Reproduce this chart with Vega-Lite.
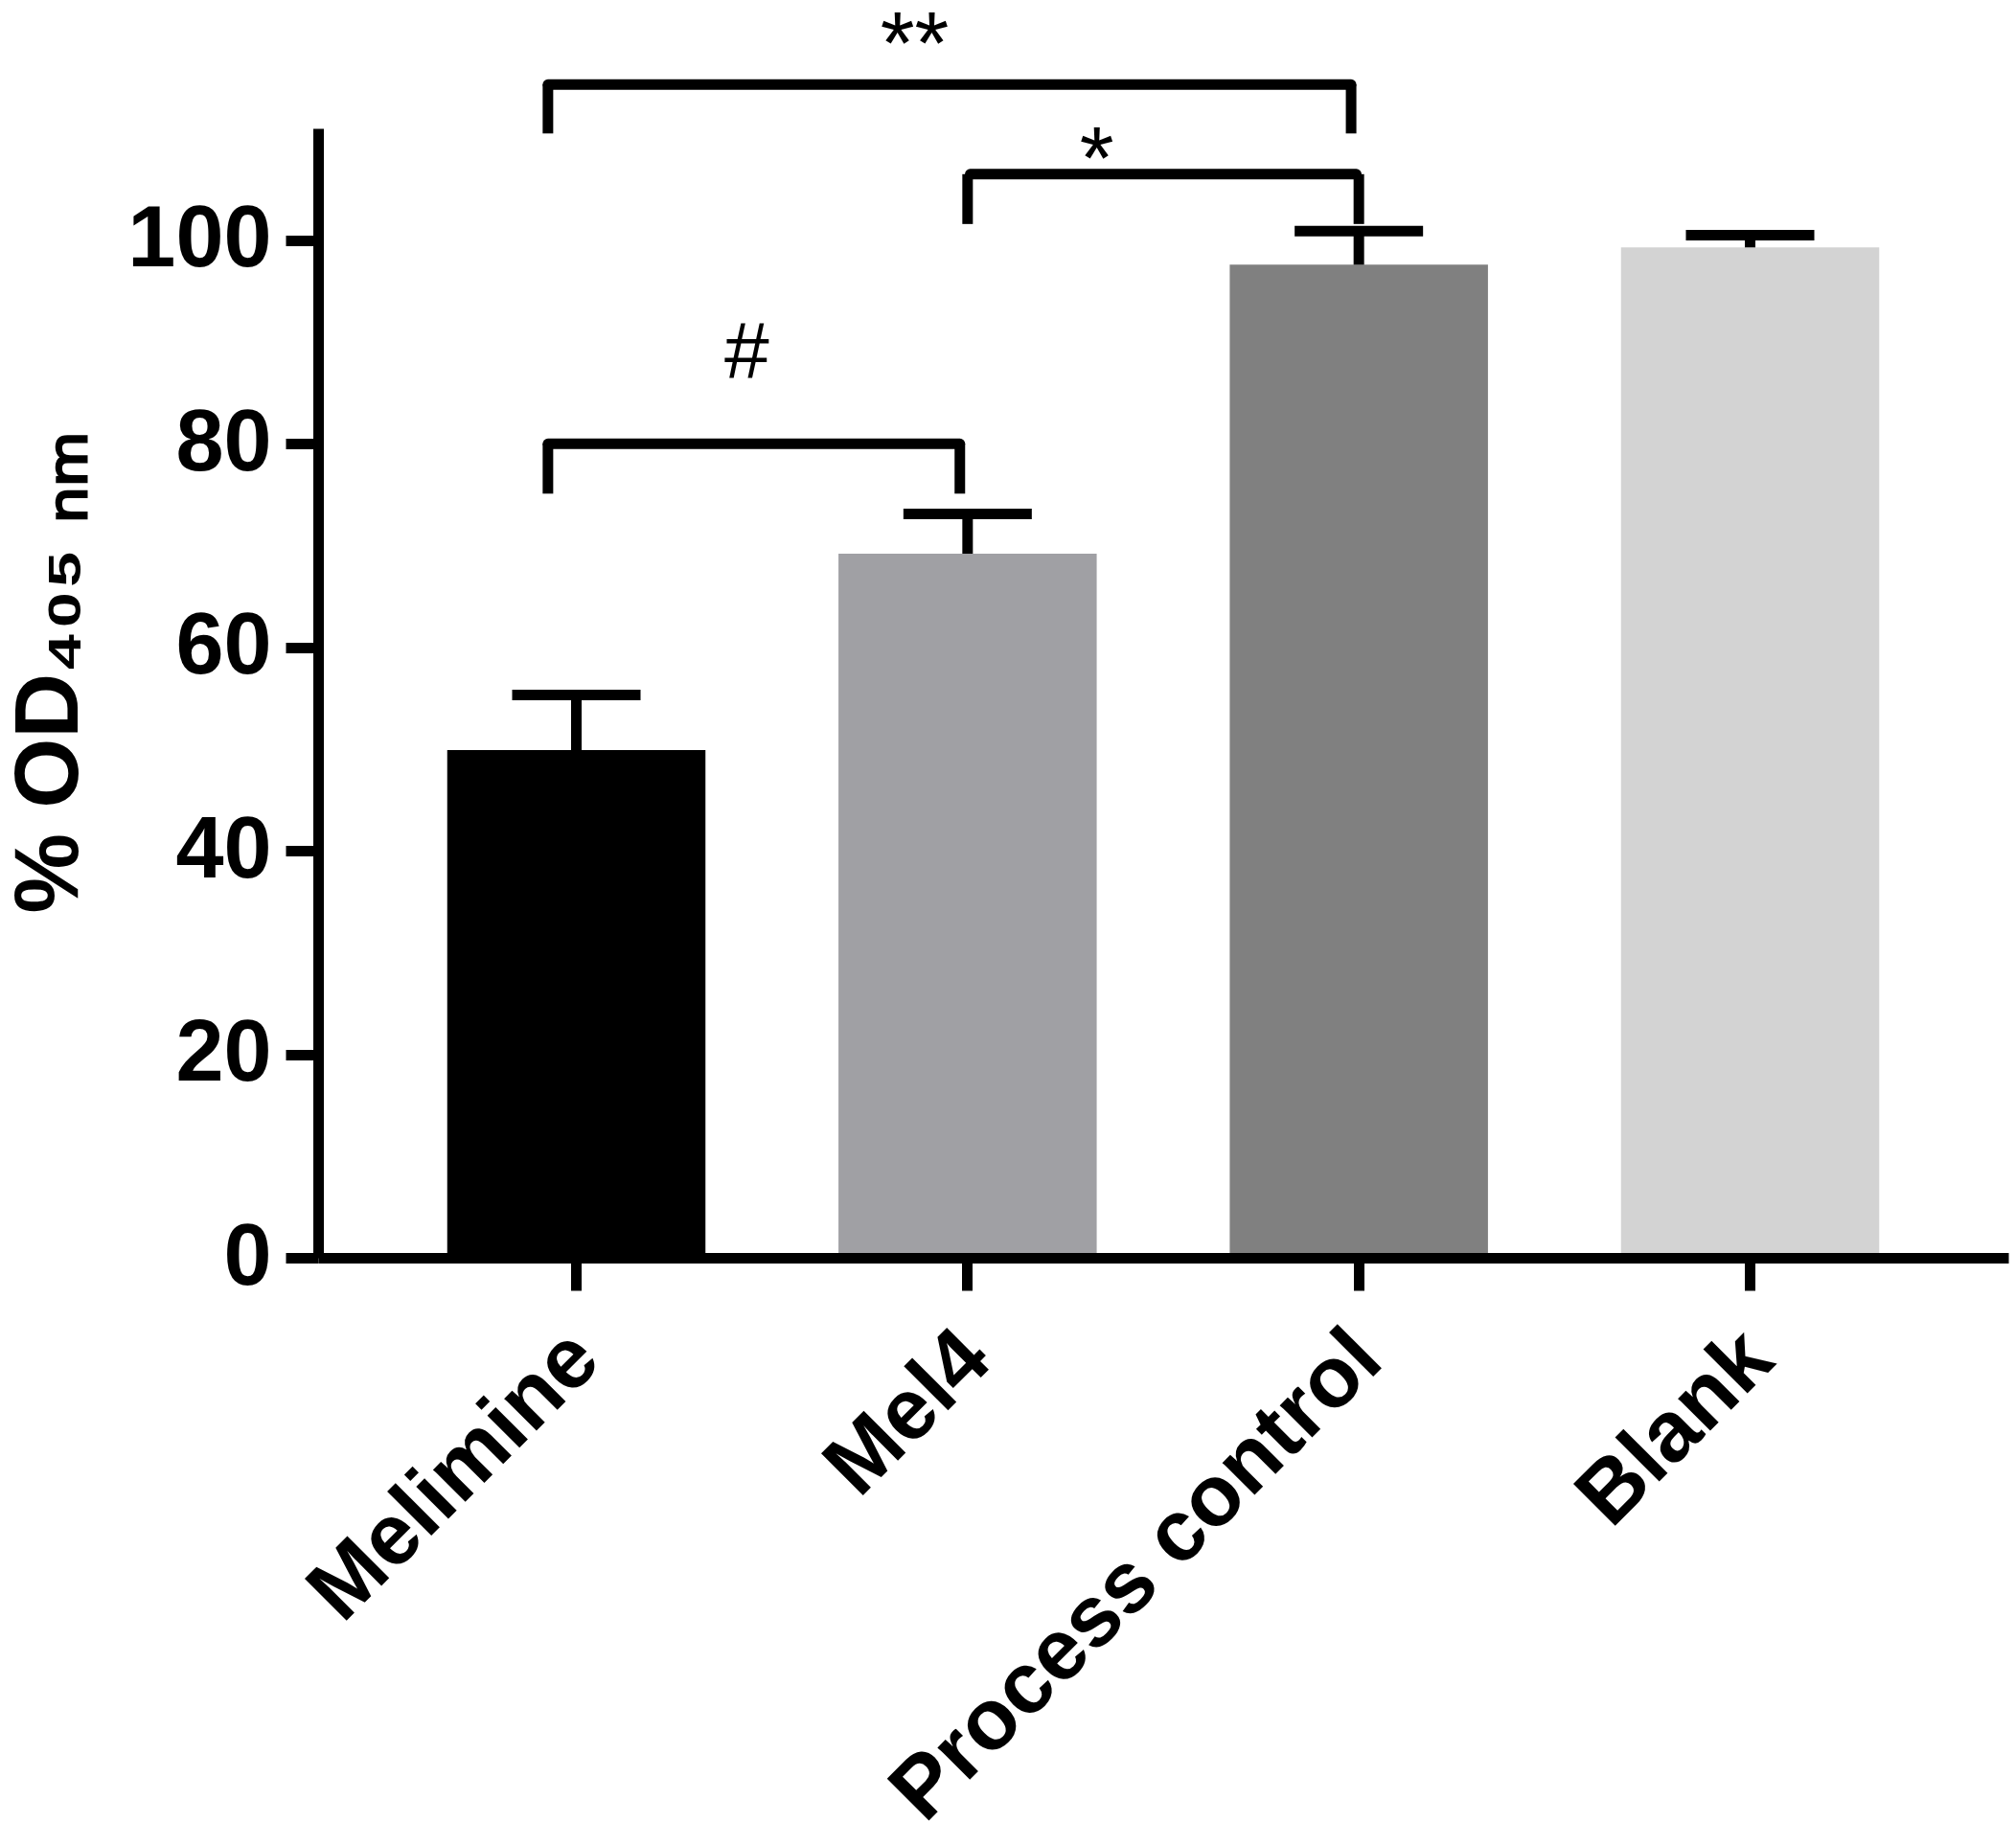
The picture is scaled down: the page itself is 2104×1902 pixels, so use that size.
{
  "$schema": "https://vega.github.io/schema/vega-lite/v6.json",
  "width": 1764,
  "height": 1179,
  "autosize": {"type": "none"},
  "padding": {"left": 332, "top": 134, "right": 8, "bottom": 589},
  "background": "white",
  "config": {
    "view": {"stroke": null},
    "font": "Liberation Sans"
  },
  "datasets": {
    "bars": [
      {"group": "Melimine", "mean": 49.9, "upper": 55.3},
      {"group": "Mel4", "mean": 69.2, "upper": 73.1},
      {"group": "Process control", "mean": 97.6, "upper": 100.9},
      {"group": "Blank", "mean": 99.3, "upper": 100.5}
    ],
    "spans": [
      {"id": "**", "from": "Melimine", "to": "Process control", "y": 115.3},
      {"id": "#", "from": "Melimine", "to": "Mel4", "y": 80.0},
      {"id": "*", "from": "Mel4", "to": "Process control", "y": 106.5}
    ],
    "legs": [
      {"id": "**", "side": "left", "at": "Melimine", "bottom": 110.5, "top": 115.3},
      {"id": "**", "side": "right", "at": "Process control", "bottom": 110.5, "top": 115.3},
      {"id": "#", "side": "left", "at": "Melimine", "bottom": 75.1, "top": 80.0},
      {"id": "#", "side": "right", "at": "Mel4", "bottom": 75.1, "top": 80.0},
      {"id": "*", "side": "left", "at": "Mel4", "bottom": 101.6, "top": 106.5},
      {"id": "*", "side": "right", "at": "Process control", "bottom": 101.6, "top": 106.5}
    ],
    "labels": [
      {"id": "**", "text": "**", "at": "Mel4", "y": 119.0},
      {"id": "*", "text": "*", "at": "Mel4", "y": 107.7},
      {"id": "#", "text": "#", "at": "Melimine", "y": 88.8}
    ]
  },
  "encoding": {
    "x": {
      "field": "group",
      "type": "nominal",
      "sort": ["Melimine", "Mel4", "Process control", "Blank"],
      "scale": {"domain": ["Melimine", "Mel4", "Process control", "Blank"], "paddingInner": 0.34, "paddingOuter": 0.33},
      "axis": {
        "title": null,
        "labelAngle": -45,
        "labelAlign": "right",
        "labelBaseline": "top",
        "labelFont": "Liberation Sans",
        "labelFontWeight": "bold",
        "labelFontSize": 90,
        "labelColor": "black",
        "labelLimit": 2000,
        "labelPadding": 26,
        "labelOffset": -22,
        "tickSize": 34,
        "tickWidth": 11,
        "tickColor": "black",
        "domainWidth": 11,
        "domainColor": "black",
        "zindex": 1
      }
    }
  },
  "layer": [
    {
      "data": {"name": "bars"},
      "mark": {"type": "bar"},
      "encoding": {
        "y": {
          "field": "mean",
          "type": "quantitative",
          "scale": {"domain": [0, 111], "nice": false},
          "axis": {
            "values": [0, 20, 40, 60, 80, 100],
            "grid": false,
            "title": "% OD₄₀₅ ₙₘ",
            "titleFont": "Liberation Sans",
            "titleFontWeight": "bold",
            "titleFontSize": 94,
            "titleColor": "black",
            "titlePadding": 32,
            "titleY": 568,
            "labelFont": "Liberation Sans",
            "labelFontWeight": "bold",
            "labelFontSize": 90,
            "labelColor": "black",
            "labelPadding": 15,
            "tickSize": 34,
            "tickWidth": 11,
            "tickColor": "black",
            "domainWidth": 11,
            "domainColor": "black",
            "zindex": 1
          }
        },
        "color": {
          "field": "group",
          "type": "nominal",
          "scale": {"domain": ["Melimine", "Mel4", "Process control", "Blank"], "range": ["#000000", "#a0a0a4", "#808080", "#d3d3d3"]},
          "legend": null
        }
      }
    },
    {
      "data": {"name": "bars"},
      "mark": {"type": "rule", "strokeWidth": 11, "color": "black"},
      "encoding": {
        "y": {"field": "mean", "type": "quantitative"},
        "y2": {"field": "upper"}
      }
    },
    {
      "data": {"name": "bars"},
      "mark": {"type": "tick", "thickness": 11, "size": 134, "color": "black", "opacity": 1},
      "encoding": {
        "y": {"field": "upper", "type": "quantitative"}
      }
    },
    {
      "data": {"name": "spans"},
      "transform": [{"filter": "datum.id !== '*'"}],
      "mark": {"type": "rule", "strokeWidth": 11, "color": "black", "strokeCap": "round"},
      "encoding": {
        "x": {"field": "from", "type": "nominal", "bandPosition": 0.39},
        "x2": {"field": "to", "bandPosition": 0.47},
        "y": {"field": "y", "type": "quantitative"}
      }
    },
    {
      "data": {"name": "spans"},
      "transform": [{"filter": "datum.id === '*'"}],
      "mark": {"type": "rule", "strokeWidth": 11, "color": "black", "strokeCap": "round"},
      "encoding": {
        "x": {"field": "from", "type": "nominal", "bandPosition": 0.51},
        "x2": {"field": "to", "bandPosition": 0.49},
        "y": {"field": "y", "type": "quantitative"}
      }
    },
    {
      "data": {"name": "legs"},
      "transform": [{"filter": "datum.id !== '*' && datum.side === 'left'"}],
      "mark": {"type": "rule", "strokeWidth": 11, "color": "black"},
      "encoding": {
        "x": {"field": "at", "type": "nominal", "bandPosition": 0.39},
        "y": {"field": "bottom", "type": "quantitative"},
        "y2": {"field": "top"}
      }
    },
    {
      "data": {"name": "legs"},
      "transform": [{"filter": "datum.id !== '*' && datum.side === 'right'"}],
      "mark": {"type": "rule", "strokeWidth": 11, "color": "black"},
      "encoding": {
        "x": {"field": "at", "type": "nominal", "bandPosition": 0.47},
        "y": {"field": "bottom", "type": "quantitative"},
        "y2": {"field": "top"}
      }
    },
    {
      "data": {"name": "legs"},
      "transform": [{"filter": "datum.id === '*'"}],
      "mark": {"type": "rule", "strokeWidth": 11, "color": "black"},
      "encoding": {
        "x": {"field": "at", "type": "nominal", "bandPosition": 0.5},
        "y": {"field": "bottom", "type": "quantitative"},
        "y2": {"field": "top"}
      }
    },
    {
      "data": {"name": "labels"},
      "transform": [{"filter": "datum.id === '**'"}],
      "mark": {"type": "text", "fontSize": 92, "font": "Liberation Sans", "baseline": "middle", "align": "center", "color": "black"},
      "encoding": {
        "x": {"field": "at", "type": "nominal", "bandPosition": 0.295},
        "y": {"field": "y", "type": "quantitative"},
        "text": {"field": "text"}
      }
    },
    {
      "data": {"name": "labels"},
      "transform": [{"filter": "datum.id === '*'"}],
      "mark": {"type": "text", "fontSize": 92, "font": "Liberation Sans", "baseline": "middle", "align": "center", "color": "black"},
      "encoding": {
        "x": {"field": "at", "type": "nominal", "bandPosition": 1.0},
        "y": {"field": "y", "type": "quantitative"},
        "text": {"field": "text"}
      }
    },
    {
      "data": {"name": "labels"},
      "transform": [{"filter": "datum.id === '#'"}],
      "mark": {"type": "text", "fontSize": 84, "font": "Liberation Sans", "baseline": "middle", "align": "center", "color": "black"},
      "encoding": {
        "x": {"field": "at", "type": "nominal", "bandPosition": 1.16},
        "y": {"field": "y", "type": "quantitative"},
        "text": {"field": "text"}
      }
    }
  ]
}
